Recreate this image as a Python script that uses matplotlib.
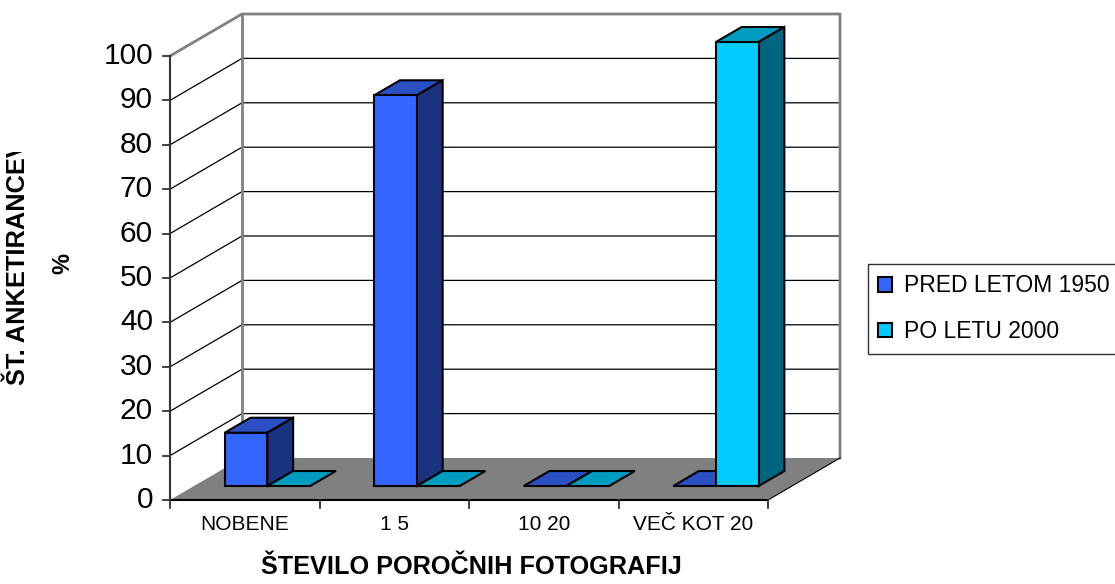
import matplotlib
matplotlib.use("Agg")
import matplotlib.pyplot as plt
from matplotlib.patches import Polygon, Patch
from matplotlib.transforms import Bbox

# ---- data ----
categories = ["NOBENE", "1 5", "10 20", "VEČ KOT 20"]
series_names = ["PRED LETOM 1950", "PO LETU 2000"]
pred_1950 = [12, 88, 0, 0]
po_2000 = [0, 0, 0, 100]
y_ticks = [0, 10, 20, 30, 40, 50, 60, 70, 80, 90, 100]
x_title = "ŠTEVILO POROČNIH FOTOGRAFIJ"
y_title = "ŠT. ANKETIRANCEV"
y_title2 = "%"

series_values = [pred_1950, po_2000]
front_col = ["#3366FF", "#00CCFF"]
top_col = ["#2A50C4", "#009CC0"]
side_col = ["#1A3380", "#006680"]

FONT = "Liberation Sans"
W, H = 1115, 584
fig = plt.figure(figsize=(W / 100, H / 100), dpi=100)
ax = fig.add_axes([0, 0, 1, 1])
ax.axis("off")

# geometry (pixel mapping of the front plane)
X0, CW = 170.0, 149.5      # px of category 0 edge, px per category
Y0, VS = 500.0, 4.44       # px of value 0, px per value unit
ax.set_xlim((0 - X0) / CW, (W - X0) / CW)
ax.set_ylim((Y0 - H) / VS, Y0 / VS)
DX = 72.0 / CW            # depth offset (full depth) in data units
DY = 42.0 / VS
ncat = len(categories)
vmax = y_ticks[-1]


def P(x, v, d):
    return (x + d * DX, v + d * DY)


grey = "#808080"
# walls gridlines
for v in y_ticks[1:-1]:
    ax.plot(*zip(P(0, v, 0), P(0, v, 1), P(ncat, v, 1)), color="black", lw=0.9, zorder=1)
# top edges & back wall frame
ax.plot(*zip(P(0, vmax, 0), P(0, vmax, 1), P(ncat, vmax, 1), P(ncat, 0, 1)), color=grey, lw=2, zorder=1)
ax.plot(*zip(P(0, vmax, 1), P(0, 0, 1)), color=grey, lw=2, zorder=1)

# floor
floor = Polygon([P(0, 0, 0), P(ncat, 0, 0), P(ncat, 0, 1), P(0, 0, 1)], closed=True,
                facecolor=grey, edgecolor="none", zorder=2)
ax.add_patch(floor)
ax.plot(*zip(P(ncat, 0, 0), P(ncat, 0, 1)), color="black", lw=0.8, zorder=2)

# axes lines
ax.plot(*zip(P(0, 0, 0), P(0, vmax, 0)), color="#333333", lw=1.5, zorder=3)
ax.plot(*zip(P(0, 0, 0), P(ncat, 0, 0)), color="black", lw=1.5, zorder=3)
tick_len_x = 7.0 / CW
tick_len_y = 8.0 / VS
for v in y_ticks:
    ax.plot([-tick_len_x, 0], [v, v], color="#333333", lw=1.3, zorder=3)
    ax.text(-17.0 / CW, v, str(v), ha="right", va="center", fontsize=21.5,
            family=FONT, color="black")
for i in range(ncat + 1):
    ax.plot([i, i], [0, -tick_len_y], color="#333333", lw=1.3, zorder=3)
for i, c in enumerate(categories):
    ax.text(i + 0.5, -25.0 / VS, c, ha="center", va="center", fontsize=15,
            family=FONT, color="black")

# bars
bw = 1 / 3.5
d0, d1 = 0.333, 0.69
z = 5
for i in range(ncat):
    for j, vals in enumerate(series_values):
        v = vals[i]
        xl = i + 0.72 * bw + j * bw
        xr = xl + bw
        lw = 1.5
        if v > 0:
            front = Polygon([P(xl, 0, d0), P(xr, 0, d0), P(xr, v, d0), P(xl, v, d0)],
                            facecolor=front_col[j], edgecolor="black", lw=lw, zorder=z, joinstyle="miter")
            side = Polygon([P(xr, 0, d0), P(xr, 0, d1), P(xr, v, d1), P(xr, v, d0)],
                           facecolor=side_col[j], edgecolor="black", lw=lw, zorder=z, joinstyle="miter")
            top = Polygon([P(xl, v, d0), P(xr, v, d0), P(xr, v, d1), P(xl, v, d1)],
                          facecolor=top_col[j], edgecolor="black", lw=lw, zorder=z, joinstyle="miter")
            for p in (top, side, front):
                ax.add_patch(p)
        else:
            top = Polygon([P(xl, 0, d0), P(xr, 0, d0), P(xr, 0, d1), P(xl, 0, d1)],
                          facecolor=top_col[j], edgecolor="black", lw=lw, zorder=z, joinstyle="miter")
            ax.add_patch(top)
        z += 1

# titles
fig.text(471 / W, 1 - 567 / H, x_title, ha="center", va="center", fontsize=18.2,
         fontweight="bold", family=FONT)
t1 = fig.text(18 / W, 1 - 263 / H, y_title, ha="center", va="center", rotation=90,
              fontsize=18.3, fontweight="bold", family=FONT)
t1.set_clip_box(Bbox.from_extents(0, 0, W, H - 152))
t1.set_clip_on(True)
fig.text(63 / W, 1 - 264 / H, y_title2, ha="center", va="center", rotation=90,
         fontsize=17, fontweight="bold", family=FONT)

# legend
handles = [Patch(facecolor=front_col[j], edgecolor="black", lw=1.5) for j in range(2)]
leg = ax.legend(handles, series_names, loc="upper left",
                bbox_to_anchor=(868 / W, 1 - 264 / H), bbox_transform=fig.transFigure,
                borderaxespad=0, frameon=True, fancybox=False, shadow=False,
                prop={"family": FONT, "size": 16.5}, handlelength=0.6, handleheight=0.6,
                handletextpad=0.5, labelspacing=1.0, borderpad=0.45)
leg.get_frame().set_edgecolor("black")
leg.get_frame().set_linewidth(1.0)

fig.savefig("out.png", dpi=100, facecolor="white")
